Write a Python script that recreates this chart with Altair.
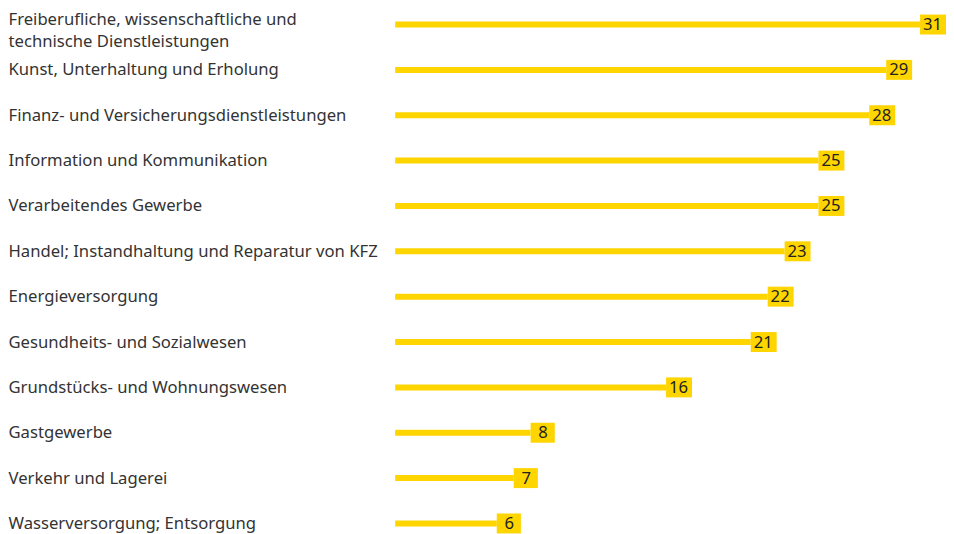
import altair as alt
import pandas as pd

categories = [
    "Freiberufliche, wissenschaftliche und|technische Dienstleistungen",
    "Kunst, Unterhaltung und Erholung",
    "Finanz- und Versicherungsdienstleistungen",
    "Information und Kommunikation",
    "Verarbeitendes Gewerbe",
    "Handel; Instandhaltung und Reparatur von KFZ",
    "Energieversorgung",
    "Gesundheits- und Sozialwesen",
    "Grundstücks- und Wohnungswesen",
    "Gastgewerbe",
    "Verkehr und Lagerei",
    "Wasserversorgung; Entsorgung",
]
values = [31, 29, 28, 25, 25, 23, 22, 21, 16, 8, 7, 6]

df = pd.DataFrame({"cat": categories, "value": values})
df["digits"] = df["value"].astype(str).str.len().astype(str)

YELLOW = "#FFD500"
FONT = "Noto Sans"
FS = 16.7

y = alt.Y(
    "cat:N",
    sort=categories,
    scale=alt.Scale(type="point", padding=0, range=[16, 516]),
    axis=alt.Axis(
        title=None, domain=False, ticks=False, grid=False,
        labelAlign="left", labelBaseline="middle", labelPadding=388,
        labelFont=FONT, labelFontSize=FS, labelColor="#333333",
        labelLimit=390, labelLineHeight=22,
        labelOffset={"condition": {"test": "datum.index == 0", "value": -5}, "value": 0},
        labelExpr="split(datum.value, '|')",
    ),
)
x = alt.X("value:Q", scale=alt.Scale(domain=[0, 31], nice=False, zero=True), axis=None)

base = alt.Chart(df)

bars = base.mark_bar(size=6, color=YELLOW).encode(x=x, y=y)

path1 = "M0,-1L2.42,-1L2.42,1L0,1Z"
path2 = "M0,-1L2.6,-1L2.6,1L0,1Z"
boxes = base.mark_point(filled=True, opacity=1, color=YELLOW, size=400, strokeWidth=0).encode(
    x=x, y=y,
    shape=alt.Shape("digits:N", scale=alt.Scale(domain=["1", "2"], range=[path1, path2]), legend=None),
)

texts = base.mark_text(dx=12.5, dy=0.5, align="center", baseline="middle", font=FONT, fontSize=FS, color="#222222").encode(
    x=x, y=y, text="value:Q"
)

chart = (
    alt.layer(bars, boxes, texts)
    .properties(width=526, height=518, padding=0)
    .configure_view(stroke=None)
)

chart.save("out.html", embed_options={"renderer": "svg", "actions": False})
